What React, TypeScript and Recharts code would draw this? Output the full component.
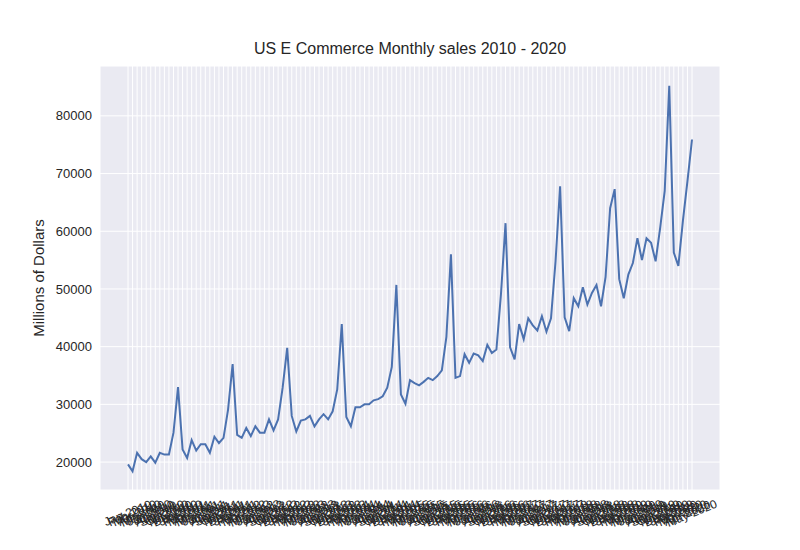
import React from "react";
import { LineChart, Line, XAxis, YAxis, CartesianGrid } from "recharts";

const months = ["Jan","Feb","Mar","Apr","May","Jun","Jul","Aug","Sep","Oct","Nov","Dec"];
const years = [2010,2011,2012,2013,2014,2015,2016,2017,2018,2019,2020];
const sales = [
  19600,18400,21600,20500,20000,21000,19900,21600,21300,21300,25100,33000,
  22200,20700,23800,22000,23100,23100,21600,24400,23300,24200,29100,37000,
  24700,24200,25900,24500,26200,25100,25100,27400,25500,27400,32900,39800,
  28000,25300,27200,27400,28000,26200,27400,28300,27400,28800,32600,43900,
  27800,26200,29500,29500,30000,30000,30700,30900,31400,32900,36500,50700,
  31700,30100,34200,33700,33300,33900,34600,34200,34900,35900,41700,56000,
  34600,34900,38700,37200,38800,38500,37500,40300,38900,39500,49100,61400,
  39900,37800,43900,41300,44900,43700,42800,45300,42600,44900,54800,67800,
  45100,42700,48400,47000,50300,47300,49300,50700,47000,52100,64000,67300,
  51700,48400,52500,54500,58800,55000,58800,58000,54800,60600,67000,85200,
  56300,54000,61800,68700,75900,
];
const yTicks = [20000,30000,40000,50000,60000,70000,80000];

const data = sales.map((v, i) => ({
  month: `${months[i % 12]}-${years[Math.floor(i / 12)]}`,
  sales: v,
}));

const XTick = (props: any) => {
  const { x, y, payload } = props;
  const ty = y + 16;
  return (
    <text x={x} y={ty} transform={`rotate(-22 ${x} ${ty})`} textAnchor="middle"
      dominantBaseline="middle" fontSize={12} fill="#262626" fontFamily="Liberation Sans, Arial, sans-serif">
      {payload.value}
    </text>
  );
};

export default function App() {
  return (
    <div style={{ position: "absolute", left: 0, top: 0, width: 800, height: 550, background: "#fff", fontFamily: "Liberation Sans, Arial, sans-serif" }}>
      <div style={{ position: "absolute", top: 40, width: 800, textAlign: "center", fontSize: 16, color: "#262626", paddingLeft: 20, boxSizing: "border-box" }}>
        US E Commerce Monthly sales 2010 - 2020
      </div>
      <div style={{ position: "absolute", left: 38, top: 278, transform: "translate(-50%,-50%) rotate(-90deg)", fontSize: 15, color: "#262626", whiteSpace: "nowrap" }}>
        Millions of Dollars
      </div>
      <LineChart width={800} height={550} data={data} margin={{ top: 66, right: 80, bottom: 0, left: 0 }}>
        <CartesianGrid stroke="#ffffff" strokeWidth={1} fill="#EAEAF2" fillOpacity={1} />
        <XAxis dataKey="month" interval={0} tick={<XTick />} tickLine={false} axisLine={false}
          height={60} padding={{ left: 28, right: 28 }} />
        <YAxis domain={[15160, 88640]} ticks={yTicks} width={100} tickLine={false} axisLine={false}
          tick={{ fontSize: 13, fill: "#262626" }} allowDataOverflow />
        <Line type="linear" dataKey="sales" stroke="#4C72B0" strokeWidth={2} dot={false} isAnimationActive={false} />
      </LineChart>
    </div>
  );
}
